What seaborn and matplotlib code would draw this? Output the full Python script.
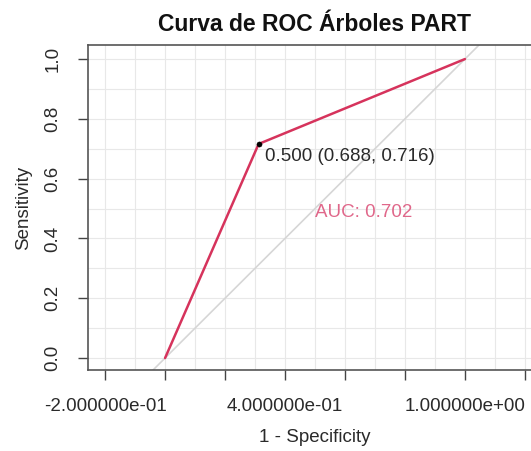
import matplotlib
matplotlib.use("Agg")
import matplotlib.pyplot as plt
import seaborn as sns
import numpy as np
import pandas as pd

# Data
one_minus_spec = [0.0, 0.312, 1.0]
sensitivity = [0.0, 0.716, 1.0]
best_threshold = 0.500
best_spec = 0.688
best_sens = 0.716
auc_value = 0.702
title = "Curva de ROC Árboles PART"
x_ticks = [-0.2, 0.0, 0.2, 0.4, 0.6, 0.8, 1.0, 1.2]
x_tick_labels = ["-2.000000e-01", "", "", "4.000000e-01", "", "", "1.000000e+00", ""]
y_ticks = [0.0, 0.2, 0.4, 0.6, 0.8, 1.0]
y_tick_labels = ["0.0", "0.2", "0.4", "0.6", "0.8", "1.0"]

sns.set_style("white")
plt.rcParams["font.family"] = ["Liberation Sans", "DejaVu Sans"]

FS = 13.5

fig = plt.figure(figsize=(5.31, 4.51), dpi=100)
ax = fig.add_axes([88 / 531, 81 / 451, (542 - 88) / 531, (370 - 45) / 451])

ax.set_xlim(-0.257, 1.257)
ax.set_ylim(-0.04, 1.047)

# grid every 0.1
for g in np.arange(-0.2, 1.31, 0.1):
    ax.axvline(g, color="#e8e8e8", lw=0.8, zorder=0)
for g in np.arange(0.0, 1.01, 0.1):
    ax.axhline(g, color="#e8e8e8", lw=0.8, zorder=0)

ax.axline((0, 0), (1, 1), color="#d6d6d6", lw=1.2, zorder=1)

df = pd.DataFrame({"fpr": one_minus_spec, "tpr": sensitivity})
sns.lineplot(data=df, x="fpr", y="tpr", ax=ax, color="#d6335c", lw=1.8,
             sort=False, zorder=3)
pt = pd.DataFrame({"fpr": [1 - best_spec], "tpr": [best_sens]})
sns.scatterplot(data=pt, x="fpr", y="tpr", ax=ax, color="black", s=14,
                edgecolor="black", zorder=4)

ax.text(1 - best_spec + 0.022, best_sens - 0.012,
        f"{best_threshold:.3f} ({best_spec:.3f}, {best_sens:.3f})",
        ha="left", va="top", fontsize=FS, color="#2a2a2a")
ax.text(0.5, 0.515, f"AUC: {auc_value:.3f}", ha="left", va="top",
        fontsize=FS, color="#e0678a")

ax.set_xticks(x_ticks)
ax.set_xticklabels(x_tick_labels, fontsize=FS, color="#2a2a2a")
ax.set_yticks(y_ticks)
ax.set_yticklabels(y_tick_labels, fontsize=FS, rotation=90, va="center",
                   color="#2a2a2a")
ax.tick_params(axis="both", direction="out", length=7, width=1, color="#444444",
               bottom=True, left=True)
ax.tick_params(axis="x", pad=13)
ax.tick_params(axis="y", pad=12)
ax.set_xlabel("1 - Specificity", fontsize=FS, color="#2a2a2a", labelpad=10)
ax.set_ylabel("Sensitivity", fontsize=FS, color="#2a2a2a", labelpad=9)
ax.set_title(title, fontsize=16.5, fontweight="bold", color="#111111", pad=10)
for s in ax.spines.values():
    s.set_color("#555555")
    s.set_linewidth(1.2)

fig.savefig("out.png", dpi=100)
